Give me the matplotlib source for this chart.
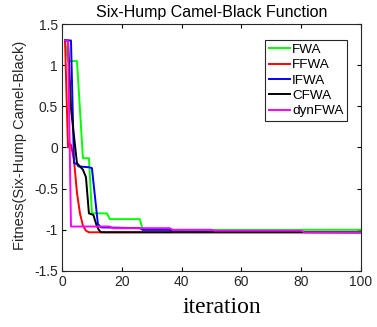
import matplotlib
matplotlib.use("Agg")
import matplotlib.pyplot as plt

# breakpoints (iteration, fitness)
fwa_x = [1, 2, 5, 7, 9, 10, 15, 16, 26, 27, 100]
fwa_y = [1.3, 1.05, 1.05, -0.13, -0.13, -0.8, -0.8, -0.87, -0.87, -1.0, -1.0]

ffwa_x = [1, 2, 2.6, 3, 4, 5, 6, 7, 8, 9, 100]
ffwa_y = [1.3, 0.0, 0.05, 0.03, -0.15, -0.55, -0.8, -0.95, -1.01, -1.03, -1.03]

ifwa_x = [1, 3, 4, 5, 5.5, 9, 10, 12, 13, 26, 27, 36, 37, 100]
ifwa_y = [1.3, 1.3, -0.19, -0.2, -0.23, -0.24, -0.25, -0.93, -0.97, -0.98, -1.0, -1.0, -1.02, -1.03]

cfwa_x = [1, 2, 3, 3.3, 5, 6, 7, 8, 9, 10.5, 11.5, 12.3, 13, 100]
cfwa_y = [1.3, 1.3, 0.48, 0.37, -0.19, -0.23, -0.27, -0.36, -0.8, -0.82, -0.94, -1.0, -1.03, -1.03]

dyn_x = [1, 2, 3, 16, 17, 36, 37, 50, 51, 80, 81, 100]
dyn_y = [1.3, 1.3, -0.96, -0.96, -0.98, -0.98, -1.0, -1.0, -1.01, -1.01, -1.03, -1.03]

xticks = [0, 20, 40, 60, 80, 100]
yticks = [-1.5, -1, -0.5, 0, 0.5, 1, 1.5]
ytick_labels = ['-1.5', '-1', '-0.5', '0', '0.5', '1', '1.5']

fig = plt.figure(figsize=(3.77, 3.27), dpi=100)
ax = fig.add_axes([0.1645, 0.1713, 0.7931, 0.7553])

lw = 1.4
ax.plot(fwa_x, fwa_y, color='#00ff00', lw=lw, label='FWA')
ax.plot(ffwa_x, ffwa_y, color='#ff0000', lw=lw, label='FFWA')
ax.plot(ifwa_x, ifwa_y, color='#0000ff', lw=lw, label='IFWA')
ax.plot(cfwa_x, cfwa_y, color='#000000', lw=lw, label='CFWA')
ax.plot(dyn_x, dyn_y, color='#ff00ff', lw=lw, label='dynFWA')

ax.set_xlim(0, 100)
ax.set_ylim(-1.5, 1.5)
ax.set_xticks(xticks)
ax.set_yticks(yticks)
ax.set_yticklabels(ytick_labels)
ax.tick_params(direction='in', top=True, right=True, length=3, width=0.8,
               labelsize=10, labelcolor='#262626', pad=3)
for s in ax.spines.values():
    s.set_linewidth(0.8)
    s.set_color('#262626')

ax.set_title('Six-Hump Camel-Black Function', fontsize=11.5, pad=5,
             family='Liberation Sans')
ax.set_ylabel('Fitness(Six-Hump Camel-Black)', fontsize=10.5,
              family='Liberation Sans', color='#262626')
ax.yaxis.set_label_coords(-0.117, 0.51)
ax.set_xlabel('iteration', fontsize=17, family='Liberation Serif')
ax.xaxis.set_label_coords(0.535, -0.105)
for t in ax.get_xticklabels() + ax.get_yticklabels():
    t.set_family('Liberation Sans')

leg = ax.legend(loc='upper right', bbox_to_anchor=(0.953, 0.935), fontsize=9.7,
                fancybox=False, edgecolor='#262626', framealpha=1,
                handlelength=1.6, handletextpad=0.15, borderpad=0.25,
                labelspacing=0.22, borderaxespad=0)
leg.get_frame().set_linewidth(0.8)
for t in leg.get_texts():
    t.set_family('Liberation Sans')

fig.savefig('out.png', dpi=100)
